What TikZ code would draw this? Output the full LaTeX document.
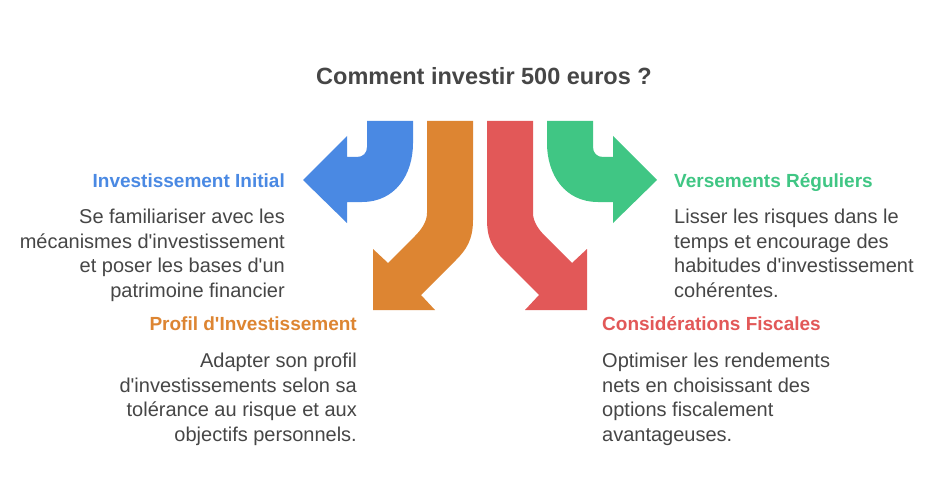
\documentclass[tikz,border=0pt]{standalone}
\usepackage{fontspec}
\setmainfont{Liberation Sans}
\definecolor{blueArrow}{RGB}{74,137,227}
\definecolor{orangeArrow}{RGB}{221,133,50}
\definecolor{redArrow}{RGB}{226,88,88}
\definecolor{greenArrow}{RGB}{64,198,132}
\definecolor{textGray}{RGB}{70,70,70}
\newcommand{\apos}{\textquotesingle}
\tikzset{
  heading/.style={font=\fontsize{19}{23}\selectfont\bfseries, inner sep=0pt},
  body/.style={font=\fontsize{20}{24.5}\selectfont, text=textGray, inner sep=0pt}
}
\begin{document}
\begin{tikzpicture}[x=1pt,y=-1pt]
  \useasboundingbox[fill=white] (0,0) rectangle (948,492);
  \node[font=\fontsize{23.5}{28}\selectfont\bfseries, text=textGray, anchor=base] (title)
    at (484,85) {Comment investir 500 euros ?};
  % arrows
  \fill[blueArrow] (367,121) -- (413,121) -- (413,143)
    .. controls (413,175) and (395,202) .. (362,202) -- (347,202) -- (347,223)
    -- (303,180) -- (347,136) -- (347,157) -- (357,157)
    .. controls (363,157) and (367,153) .. (367,147) -- cycle;
  \fill[orangeArrow] (427,121) -- (473,121) -- (473,220)
    .. controls (473,240) and (466,250) .. (456,260) -- (421,295) -- (435,310)
    -- (373,310) -- (373,249) -- (388,263) -- (415,236)
    .. controls (421,230) and (427,222) .. (427,213) -- cycle;
  \fill[redArrow] (533,121) -- (487,121) -- (487,220)
    .. controls (487,240) and (494,250) .. (504,260) -- (539,295) -- (525,310)
    -- (587,310) -- (587,249) -- (572,263) -- (545,236)
    .. controls (539,230) and (533,222) .. (533,213) -- cycle;
  \fill[greenArrow] (593,121) -- (547,121) -- (547,143)
    .. controls (547,175) and (565,202) .. (598,202) -- (613,202) -- (613,223)
    -- (657,180) -- (613,136) -- (613,157) -- (603,157)
    .. controls (597,157) and (593,153) .. (593,147) -- cycle;
  % texts
  \node[heading, text=blueArrow, anchor=base east] (initial) at (285,187) {Investissement Initial};
  \node[body, anchor=north east, align=right] (initialText) at (285,209)
    {Se familiariser avec les\\m\'ecanismes d\apos investissement\\et poser les bases d\apos un\\patrimoine financier};
  \node[heading, text=orangeArrow, anchor=base east] (profil) at (357,330) {Profil d\apos Investissement};
  \node[body, anchor=north east, align=right] (profilText) at (357,353)
    {Adapter son profil\\d\apos investissements selon sa\\tol\'erance au risque et aux\\objectifs personnels.};
  \node[heading, text=redArrow, anchor=base west] (fiscal) at (602,330) {Consid\'erations Fiscales};
  \node[body, anchor=north west, align=left] (fiscalText) at (602,353)
    {Optimiser les rendements\\nets en choisissant des\\options fiscalement\\avantageuses.};
  \node[heading, text=greenArrow, anchor=base west] (versements) at (674,187) {Versements R\'eguliers};
  \node[body, anchor=north west, align=left] (versementsText) at (674,209)
    {Lisser les risques dans le\\temps et encourage des\\habitudes d\apos investissement\\coh\'erentes.};
\end{tikzpicture}
\end{document}
